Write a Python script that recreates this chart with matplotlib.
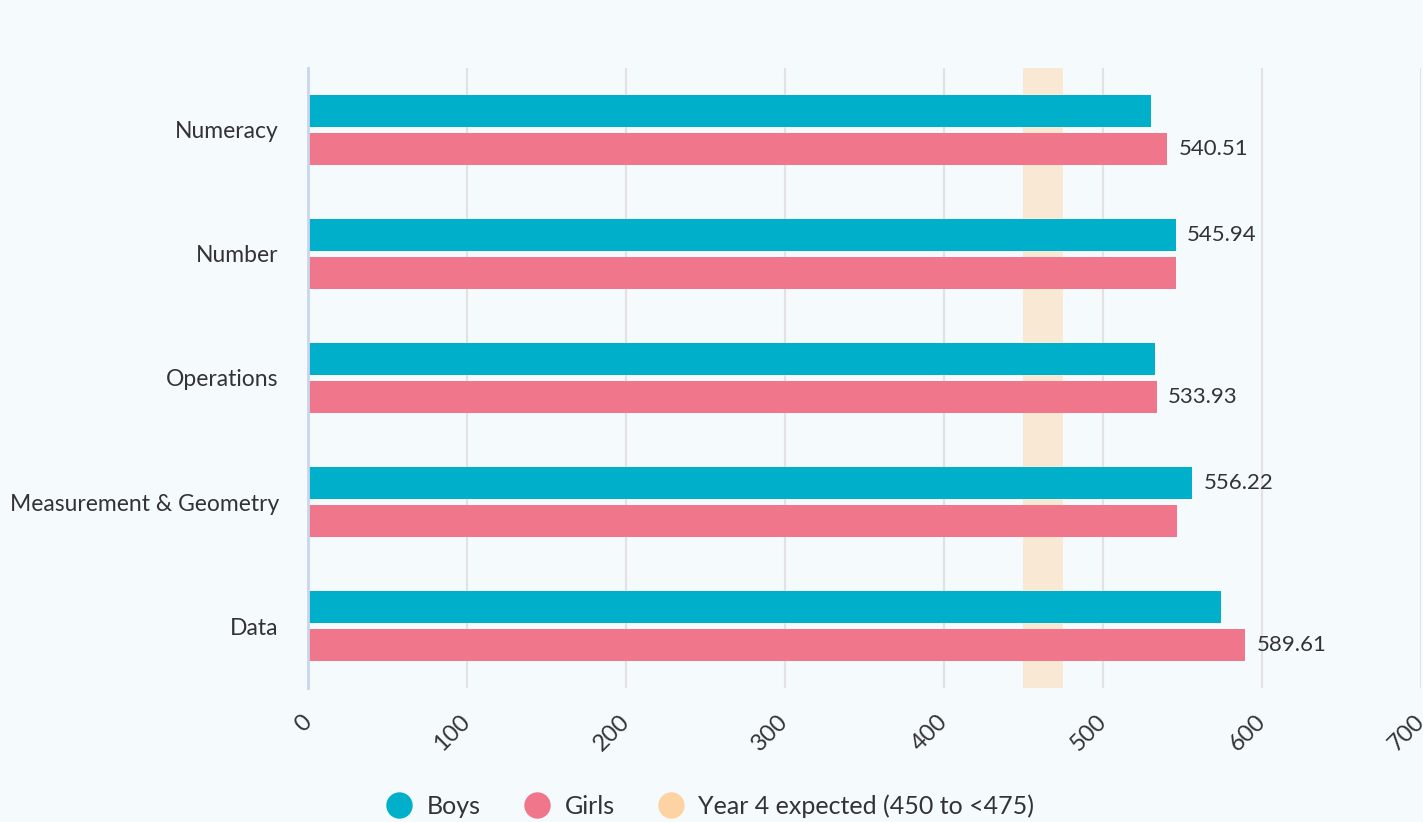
import numpy as np
import matplotlib.pyplot as plt
from matplotlib.lines import Line2D

categories = ['Numeracy', 'Number', 'Operations', 'Measurement & Geometry', 'Data']
boys = [530.2, 545.94, 532.7, 556.22, 574.3]
girls = [540.51, 545.9, 533.93, 546.4, 589.61]
band_lo, band_hi = 450, 475
x_ticks = [0, 100, 200, 300, 400, 500, 600, 700]

BOYS_C = '#00AFC9'
GIRLS_C = '#F0768C'
BAND_C = '#FDD3A3'
BG = '#F5FAFD'
TXT = '#333333'

plt.rcParams['font.family'] = ['Lato', 'DejaVu Sans']

fig = plt.figure(figsize=(14.23, 8.22), dpi=100, facecolor=BG)
ax = fig.add_axes([0.2164, 0.163, 0.7822, 0.7543])
ax.set_facecolor(BG)

y = np.arange(len(categories))
h = 0.258
off = 0.153
ax.axvspan(band_lo, band_hi, color=BAND_C, alpha=0.45, lw=0, zorder=1)
ax.barh(y - off, boys, height=h, color=BOYS_C, zorder=2)
ax.barh(y + off, girls, height=h, color=GIRLS_C, zorder=2)

# label only the larger bar of each pair
for i in range(len(categories)):
    if boys[i] >= girls[i]:
        ax.text(boys[i] + 7, y[i] - off, f'{boys[i]:.2f}', va='center', ha='left',
                fontsize=16, color=TXT)
    else:
        ax.text(girls[i] + 7, y[i] + off, f'{girls[i]:.2f}', va='center', ha='left',
                fontsize=16, color=TXT)

ax.set_xlim(0, 700)
ax.set_ylim(len(categories) - 0.5, -0.5)
ax.set_yticks(y)
ax.set_yticklabels(categories, fontsize=16.5, color=TXT)
ax.set_xticks(x_ticks)
ax.set_xticklabels([str(t) for t in x_ticks], rotation=45, ha='right', va='center',
                   rotation_mode='anchor', fontsize=17, color=TXT)
ax.tick_params(axis='both', length=0)
ax.tick_params(axis='y', pad=21)
ax.tick_params(axis='x', pad=22)
ax.grid(axis='x', color='#E2E2E2', lw=1.5, zorder=0)
ax.set_axisbelow(True)
for s in ['top', 'right', 'bottom']:
    ax.spines[s].set_visible(False)
ax.spines['left'].set_color('#C9D5EC')
ax.spines['left'].set_linewidth(2)
ax.spines['left'].set_zorder(3)

handles = [Line2D([], [], marker='o', ls='', ms=19, color=c, mec='none')
           for c in [BOYS_C, GIRLS_C, BAND_C]]
fig.legend(handles, ['Boys', 'Girls', 'Year 4 expected (450 to <475)'],
           loc='lower center', bbox_to_anchor=(0.495, -0.022), ncol=3, frameon=False,
           fontsize=18, labelcolor=TXT, handletextpad=0.1, columnspacing=1.25)

fig.savefig('out.png', dpi=100, facecolor=BG)
